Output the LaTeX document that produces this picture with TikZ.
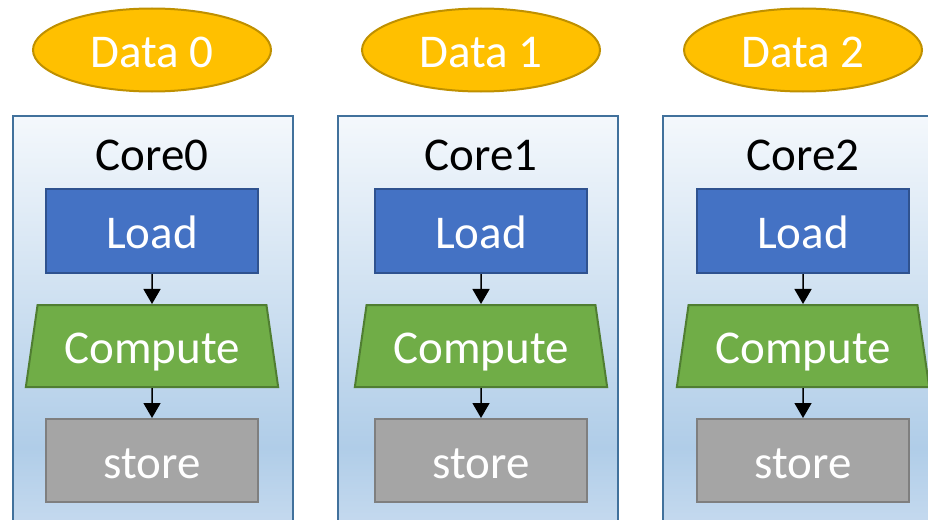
\documentclass[tikz,border=0pt]{standalone}
\usepackage{fontspec}
\setmainfont{Carlito}
\usetikzlibrary{shapes.geometric,arrows.meta}

\definecolor{datafill}{HTML}{FFC000}
\definecolor{dataedge}{HTML}{BF9000}
\definecolor{loadfill}{HTML}{4472C4}
\definecolor{loadedge}{HTML}{2F528F}
\definecolor{compfill}{HTML}{70AD47}
\definecolor{compedge}{HTML}{507E32}
\definecolor{storefill}{HTML}{A5A5A5}
\definecolor{storeedge}{HTML}{7F7F7F}
\definecolor{coreedge}{HTML}{41719C}
\definecolor{coretop}{HTML}{F4F8FC}
\definecolor{coremid}{HTML}{B0CDE8}
\definecolor{corelow}{HTML}{C9DCF0}

% light blue gradient of the core panels (path spans 25bp..75bp)
\pgfdeclareverticalshading{coreshade}{100bp}{%
  color(0bp)=(corelow); color(25bp)=(corelow); color(36bp)=(coremid);
  color(75bp)=(coretop); color(100bp)=(coretop)}

\tikzset{
  bigtext/.style={font=\fontsize{47}{50}\selectfont, text height=35pt, text depth=0pt},
  datanode/.style={ellipse, draw=dataedge, fill=datafill, line width=2pt,
    minimum width=238pt, minimum height=83pt, inner sep=0pt,
    text=white, bigtext},
  corepanel/.style={rectangle, draw=coreedge, line width=2pt, shading=coreshade,
    minimum width=280pt, minimum height=425pt, inner sep=0pt, anchor=north},
  coretitle/.style={text=black, bigtext, inner sep=0pt},
  loadbox/.style={rectangle, draw=loadedge, fill=loadfill, line width=2pt,
    minimum width=212pt, minimum height=84pt, inner sep=0pt, text=white, bigtext},
  compbox/.style={trapezium, trapezium stretches=true, trapezium left angle=75.6,
    trapezium right angle=75.6, draw=compedge, fill=compfill, line width=2pt,
    minimum width=253pt, minimum height=82pt, inner sep=0pt, text=white, bigtext},
  storebox/.style={rectangle, draw=storeedge, fill=storefill, line width=2pt,
    minimum width=212pt, minimum height=83pt, inner sep=0pt, text=white, bigtext},
  flow/.style={-{Triangle[width=17pt,length=15pt]}, line width=1.5pt, black},
}

\begin{document}
\begin{tikzpicture}[x=1pt, y=-1pt]
  \useasboundingbox (0,0) rectangle (928,519);
  \begin{scope}
    \clip (0,0) rectangle (928,519);
    % column: index / centre of the stack / centre of the panel
    \foreach \i/\cx/\px in {0/152/153, 1/481/478, 2/803/803} {
      \node[datanode] (data\i) at (\cx,50) {Data \i};
      \node[corepanel] (core\i) at (\px,115) {};
      \node[coretitle] (title\i) at (\cx,153) {Core\i};
      \node[loadbox] (load\i) at (\cx,231) {Load};
      \node[compbox] (comp\i) at (\cx,346) {Compute};
      \node[storebox] (store\i) at (\cx,460.5) {store};
      \draw[flow] (load\i.south) -- (comp\i.north);
      \draw[flow] (comp\i.south) -- (store\i.north);
    }
  \end{scope}
\end{tikzpicture}
\end{document}
